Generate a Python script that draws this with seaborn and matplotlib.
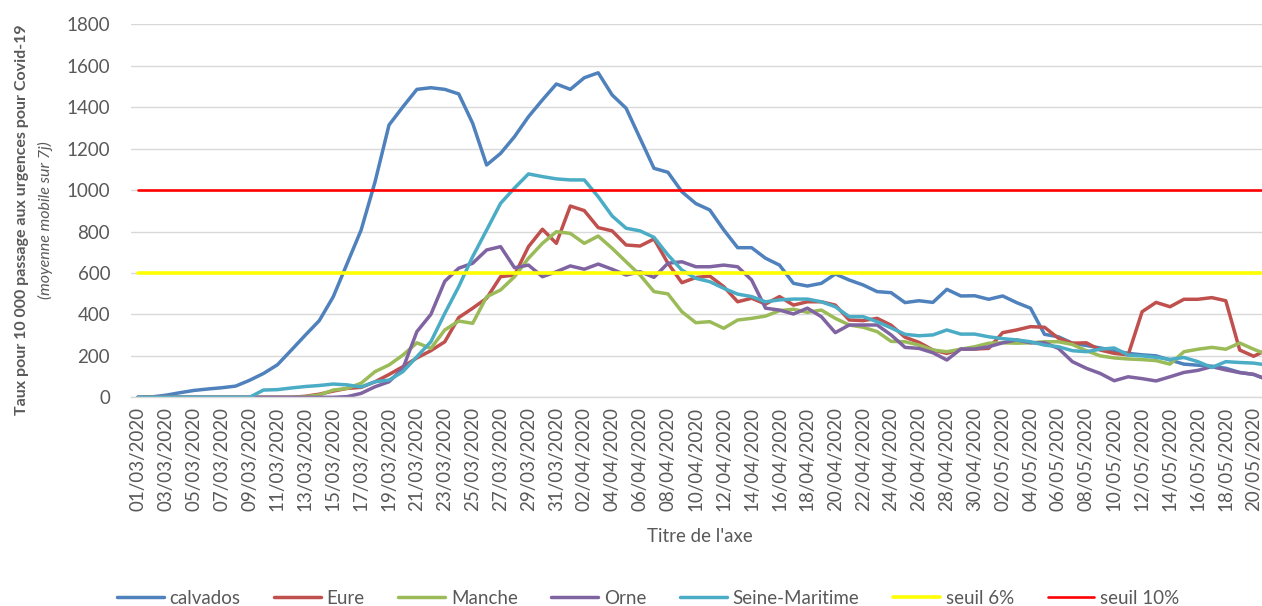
import matplotlib
matplotlib.use("Agg")
import matplotlib.pyplot as plt
import seaborn as sns
import numpy as np
import pandas as pd

# categories : un point par jour, du 01/03/2020 au 21/05/2020
dates = pd.date_range("2020-03-01", "2020-05-21").strftime("%d/%m/%Y").tolist()

calvados = [0, 2, 10, 22, 33, 40, 46, 54, 82, 115, 157, 228, 300, 370, 485, 646, 807, 1040,
            1314, 1402, 1486, 1494, 1486, 1464, 1322, 1121, 1177, 1258, 1354, 1435, 1512, 1486,
            1542, 1566, 1459, 1395, 1250, 1105, 1086, 992, 935, 904, 808, 722, 722, 671, 638,
            550, 537, 550, 595, 566, 542, 510, 505, 457, 466, 458, 521, 489, 490, 473, 489, 457,
            430, 304, 292, 261, 250, 238, 226, 212, 205, 200, 180, 160, 155, 150, 140, 120, 110, 85]
eure = [0, 0, 0, 0, 0, 0, 0, 0, 0, 0, 0, 0, 5, 15, 30, 43, 48, 75, 110, 148, 190, 225, 268,
        385, 430, 478, 582, 590, 727, 811, 743, 923, 901, 819, 803, 735, 730, 764, 647, 553,
        578, 585, 534, 461, 478, 450, 486, 445, 461, 461, 445, 373, 370, 381, 348, 290, 265,
        228, 212, 232, 233, 236, 312, 325, 341, 338, 285, 261, 263, 228, 212, 205, 413, 458,
        437, 473, 473, 481, 466, 228, 198, 231]
manche = [0, 0, 0, 0, 0, 0, 0, 0, 0, 0, 0, 0, 3, 11, 35, 43, 68, 124, 156, 204, 263, 236, 325,
          368, 357, 485, 518, 582, 671, 743, 799, 791, 743, 778, 719, 654, 590, 510, 499, 413,
          360, 365, 333, 373, 381, 392, 418, 425, 410, 421, 381, 349, 338, 317, 270, 268, 252,
          228, 220, 232, 244, 261, 263, 261, 263, 268, 268, 255, 225, 200, 190, 185, 182, 177,
          160, 220, 232, 241, 232, 262, 232, 205]
orne = [0, 0, 0, 0, 0, 0, 0, 0, 0, 0, 0, 0, 0, 0, 0, 3, 19, 51, 75, 140, 317, 400, 560, 623,
        647, 711, 727, 625, 638, 582, 606, 634, 618, 643, 618, 590, 606, 579, 647, 654, 630,
        630, 638, 630, 566, 430, 421, 402, 430, 389, 312, 349, 349, 349, 301, 241, 236, 215,
        180, 233, 233, 244, 263, 277, 263, 263, 236, 172, 140, 115, 80, 99, 90, 79, 99, 120,
        130, 148, 132, 119, 111, 85]
seine_maritime = [0, 0, 0, 0, 0, 0, 0, 0, 0, 35, 37, 45, 52, 57, 64, 60, 50, 75, 83, 124, 196,
                  268, 405, 534, 679, 807, 936, 1010, 1078, 1065, 1054, 1049, 1049, 968, 875,
                  816, 803, 772, 687, 614, 574, 558, 526, 498, 486, 461, 470, 474, 474, 461,
                  437, 389, 389, 365, 335, 304, 297, 301, 325, 305, 305, 292, 283, 277, 268,
                  252, 244, 225, 220, 232, 238, 204, 200, 193, 183, 192, 172, 144, 172, 168,
                  165, 155]
seuil_6 = [600] * len(dates)
seuil_10 = [1000] * len(dates)

series = [
    ("calvados", calvados, "#4F81BD", 2.5),
    ("Eure", eure, "#C0504D", 2.5),
    ("Manche", manche, "#9BBB59", 2.5),
    ("Orne", orne, "#8064A2", 2.5),
    ("Seine-Maritime", seine_maritime, "#4BACC6", 2.5),
    ("seuil 6%", seuil_6, "#FFFF00", 2.6),
    ("seuil 10%", seuil_10, "#FF0000", 1.9),
]

sns.set_theme(style="white")
plt.rcParams["font.family"] = ["Lato", "DejaVu Sans"]
grey = "#595959"

fig = plt.figure(figsize=(12.62, 6.06), dpi=100)
# la zone de tracé dépasse à droite : l'image d'origine est rognée
ax = fig.add_axes([131 / 1262, 1 - 397.3 / 606, (1274.6 - 131) / 1262, 373 / 606])

x = np.arange(len(dates))
for name, vals, col, lw in series:
    sns.lineplot(x=x, y=vals, color=col, linewidth=lw, label=name, ax=ax, legend=False)

ax.set_xlim(-0.5, len(dates) - 0.5)
ax.set_ylim(0, 1800)
ax.set_yticks(range(0, 1801, 200))
ax.yaxis.grid(True, color="#d9d9d9", linewidth=1.0)
ax.set_axisbelow(True)
for s in ["top", "right", "left"]:
    ax.spines[s].set_visible(False)
ax.spines["bottom"].set_color("#d9d9d9")
ax.spines["bottom"].set_linewidth(1.0)

ax.set_xticks(x[::2])
ax.set_xticklabels(dates[::2], rotation=90)
ax.set_xticks(np.arange(-0.5, len(dates), 2), minor=True)
ax.tick_params(axis="x", which="major", length=0, pad=7, labelsize=13.5, labelcolor=grey)
ax.tick_params(axis="x", which="minor", length=4, color="#d9d9d9", width=1)
ax.tick_params(axis="y", length=0, pad=15, labelsize=13.5, labelcolor=grey)
ax.set_xlabel("")
ax.set_ylabel("")

fig.text(700 / 1262, 1 - 537 / 606, "Titre de l'axe", ha="center", va="center",
         fontsize=13.5, color=grey)
fig.text(22 / 1262, 1 - 220 / 606, "Taux pour 10 000 passage aux urgences pour Covid-19",
         rotation=90, ha="center", va="center", fontsize=11.5, fontweight="bold", color=grey)
fig.text(45 / 1262, 1 - 220 / 606, "(moyenne mobile sur 7j)", rotation=90, ha="center",
         va="center", fontsize=11.5, fontstyle="italic", color=grey)

handles, labels = ax.get_legend_handles_labels()
leg = fig.legend(handles, labels, loc="center", bbox_to_anchor=(648 / 1262, 1 - 598 / 606),
                 ncol=7, frameon=False, fontsize=13.5, handlelength=2.5, handletextpad=0.3,
                 columnspacing=1.8, borderaxespad=0)
for t in leg.get_texts():
    t.set_color(grey)

fig.savefig("out.png", dpi=100)
